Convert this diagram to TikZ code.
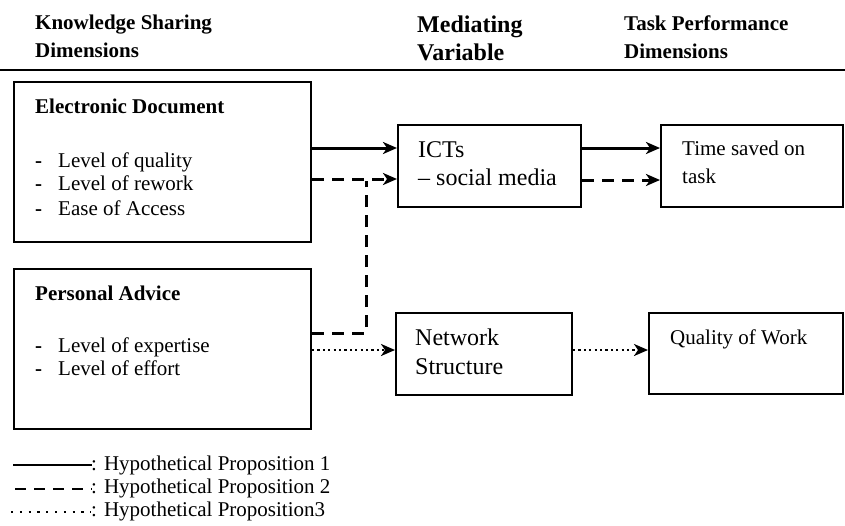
\documentclass[tikz,border=0pt]{standalone}
\usepackage{fontspec}
\setmainfont{Liberation Serif}
\usetikzlibrary{arrows.meta}
\begin{document}
\begin{tikzpicture}[x=1pt,y=-1pt,
  box/.style={draw, line width=2pt, inner sep=0pt},
  txt/.style={inner sep=0pt, anchor=base west, font=\fontsize{21}{25}\selectfont},
  bigtxt/.style={inner sep=0pt, anchor=base west, font=\fontsize{24}{28}\selectfont},
  hdr/.style={inner sep=0pt, anchor=base west, font=\fontsize{21}{25}\selectfont\bfseries},
  bighdr/.style={inner sep=0pt, anchor=base west, font=\fontsize{24}{28}\selectfont\bfseries},
  tip/.style={-{Stealth[length=14pt,width=12pt,inset=4pt]}},
  solidln/.style={line width=3pt},
  dashln/.style={line width=3pt, dash pattern=on 12pt off 8pt},
  dotln/.style={line width=2.3pt, dash pattern=on 2.2pt off 3.2pt},
]
\useasboundingbox (0,0) rectangle (845,525);

% headers
\node[hdr] (h1a) at (35,29) {Knowledge Sharing};
\node[hdr] (h1b) at (35,57) {Dimensions};
\node[bighdr] (h2a) at (417,32) {Mediating};
\node[bighdr] (h2b) at (417,60) {Variable};
\node[hdr] (h3a) at (624,30) {Task Performance};
\node[hdr] (h3b) at (624,58) {Dimensions};
\coordinate (rl) at (0,70);
\coordinate (rr) at (845,70);
\draw[line width=2.2pt] (rl) -- (rr);

% boxes
\node[box, minimum width=297pt, minimum height=160pt] (ed) at (162.5,162) {};
\node[box, minimum width=297pt, minimum height=160pt] (pa) at (162.5,349) {};
\node[box, minimum width=183pt, minimum height=82pt] (ict) at (489.5,166) {};
\node[box, minimum width=182pt, minimum height=82pt] (ts) at (752,166) {};
\node[box, minimum width=176pt, minimum height=82pt] (ns) at (484,354) {};
\node[box, minimum width=194pt, minimum height=81pt] (qw) at (746,353.5) {};

% box texts
\node[hdr] (edt) at (35,113) {Electronic Document};
\node[txt] (edd1) at (35,167) {\textbf{-}};
\node[txt] (edi1) at (58,167) {Level of quality};
\node[txt] (edd2) at (35,190) {\textbf{-}};
\node[txt] (edi2) at (58,190) {Level of rework};
\node[txt] (edd3) at (35,215) {\textbf{-}};
\node[txt] (edi3) at (58,215) {Ease of Access};

\node[hdr] (pat) at (35,300) {Personal Advice};
\node[txt] (pad1) at (35,352) {\textbf{-}};
\node[txt] (pai1) at (58,352) {Level of expertise};
\node[txt] (pad2) at (35,375) {\textbf{-}};
\node[txt] (pai2) at (58,375) {Level of effort};

\node[bigtxt] (ict1) at (418,157) {ICTs};
\node[bigtxt] (ict2) at (418,185) {– social media};

\node[txt] (ts1) at (682,155) {Time saved on};
\node[txt] (ts2) at (682,183) {task};

\node[bigtxt] (ns1) at (415,345) {Network};
\node[bigtxt] (ns2) at (415,374) {Structure};

\node[txt] (qw1) at (670,344) {Quality of Work};

% connector levels
\coordinate (ya) at (0,148);
\coordinate (yb) at (0,179);
\coordinate (yc) at (0,180);
\coordinate (yd) at (0,333);
\coordinate (ye) at (0,350);
\coordinate (join) at (366,181);

\draw[solidln, tip] (ed.east |- ya) -- (ict.west |- ya);
\draw[solidln, tip] (ict.east |- ya) -- (ts.west |- ya);
\draw[dashln, tip] (ed.east |- yb) -- (ict.west |- yb);
\draw[dashln, tip] (ict.east |- yc) -- (ts.west |- yc);
\draw[dashln] (pa.east |- yd) -| (join);
\draw[dotln, tip] (pa.east |- ye) -- (ns.west |- ye);
\draw[dotln, tip] (ns.east |- ye) -- (qw.west |- ye);

% legend
\coordinate (l1a) at (13,465);
\coordinate (l1b) at (92,465);
\coordinate (l2a) at (15,489);
\coordinate (l2b) at (92,489);
\coordinate (l3a) at (11,512);
\coordinate (l3b) at (91,512);
\draw[line width=2.5pt] (l1a) -- (l1b);
\draw[line width=2.5pt, dash pattern=on 11pt off 8pt] (l2a) -- (l2b);
\draw[line width=2.5pt, dash pattern=on 2.2pt off 6.6pt] (l3a) -- (l3b);
\node[txt] (lg1) at (91,470) {: Hypothetical Proposition 1};
\node[txt] (lg2) at (91,493) {: Hypothetical Proposition 2};
\node[txt] (lg3) at (91,516) {: Hypothetical Proposition3};
\end{tikzpicture}
\end{document}
